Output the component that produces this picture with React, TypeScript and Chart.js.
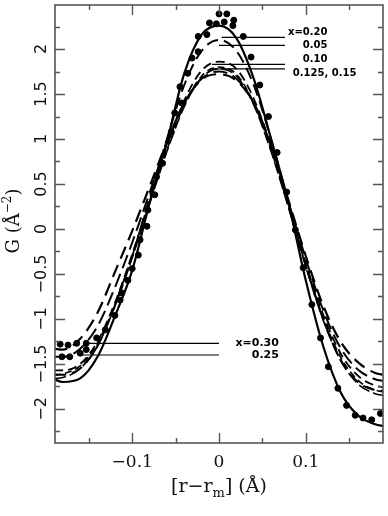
import React, { useEffect, useRef } from 'react';
import { Chart, registerables } from 'chart.js';
Chart.register(...registerables);

// ---- data ----
const xGrid = [-0.19, -0.18, -0.16, -0.14, -0.12, -0.10, -0.08, -0.06, -0.04, -0.02, 0, 0.02, 0.04, 0.06, 0.08, 0.10, 0.12, 0.14, 0.16, 0.18, 0.19];
const curveX20 = [-1.67, -1.70, -1.66, -1.42, -0.97, -0.46, 0.29, 0.97, 1.73, 2.16, 2.26, 2.12, 1.67, 1.0, 0.29, -0.57, -1.30, -1.81, -2.07, -2.17, -2.19];
const curveX05 = [-1.62, -1.62, -1.55, -1.30, -0.85, -0.30, 0.35, 1.0, 1.6, 1.98, 2.10, 1.98, 1.6, 1.0, 0.3, -0.4, -1.0, -1.45, -1.70, -1.79, -1.80];
const curveX10 = [-1.57, -1.57, -1.50, -1.25, -0.82, -0.28, 0.32, 0.92, 1.43, 1.76, 1.86, 1.78, 1.45, 0.92, 0.28, -0.38, -0.95, -1.38, -1.63, -1.74, -1.76];
const curveX125 = [-1.62, -1.61, -1.52, -1.27, -0.84, -0.30, 0.30, 0.88, 1.38, 1.70, 1.80, 1.72, 1.40, 0.88, 0.25, -0.40, -0.98, -1.42, -1.68, -1.79, -1.81];
const curveX15 = [-1.66, -1.65, -1.55, -1.30, -0.86, -0.32, 0.28, 0.86, 1.36, 1.68, 1.78, 1.70, 1.38, 0.86, 0.24, -0.42, -1.01, -1.46, -1.72, -1.83, -1.85];
const curveX25 = [-1.42, -1.42, -1.33, -1.08, -0.65, -0.15, 0.40, 0.95, 1.40, 1.67, 1.75, 1.67, 1.40, 0.92, 0.30, -0.33, -0.90, -1.32, -1.56, -1.67, -1.69];
const curveX30 = [-1.33, -1.34, -1.22, -0.93, -0.48, -0.02, 0.47, 0.97, 1.40, 1.66, 1.72, 1.65, 1.40, 0.93, 0.32, -0.30, -0.85, -1.25, -1.48, -1.60, -1.62];

const dotX = [-0.183, -0.174, -0.164, -0.153, -0.181, -0.172, -0.160, -0.153, -0.141, -0.131, -0.120, -0.114, -0.112, -0.105, -0.100, -0.093, -0.091, -0.083, -0.082, -0.074, -0.072, -0.065, -0.055, -0.051, -0.043, -0.045, -0.036, -0.031, -0.024, -0.024, -0.014, -0.011, -0.003, 0.000, 0.006, 0.009, 0.016, 0.017, 0.028, 0.037, 0.047, 0.057, 0.067, 0.078, 0.088, 0.097, 0.107, 0.117, 0.126, 0.137, 0.147, 0.157, 0.166, 0.176, 0.186];
const dotY = [-1.28, -1.29, -1.27, -1.27, -1.42, -1.42, -1.38, -1.34, -1.21, -1.12, -0.96, -0.79, -0.71, -0.57, -0.44, -0.29, -0.12, 0.03, 0.21, 0.38, 0.58, 0.73, 1.08, 1.29, 1.40, 1.58, 1.73, 1.90, 1.97, 2.14, 2.16, 2.29, 2.28, 2.39, 2.30, 2.39, 2.26, 2.32, 2.14, 1.91, 1.60, 1.25, 0.85, 0.41, -0.01, -0.43, -0.84, -1.21, -1.53, -1.77, -1.96, -2.07, -2.10, -2.12, -2.05];

const pointerY = [2.13, 2.04, 1.83, 1.78, -1.27, -1.40];
const pointerFrom = [0.003, 0.0, -0.008, -0.010, -0.155, -0.160];
const pointerTo = [0.076, 0.076, 0.076, 0.076, 0.0, 0.0];
const topLabels = ['x=0.20', '0.05', '0.10', '0.125, 0.15'];
const topLabelY = [2.18, 2.04, 1.89, 1.73];
const bottomLabels = ['x=0.30', '0.25'];
const bottomLabelY = [-1.27, -1.40];

const xTickValues = [-0.15, -0.1, -0.05, 0, 0.05, 0.1, 0.15];
const xMajor = [-0.1, 0, 0.1];
const xTickLabels = ['\u22120.1', '0', '0.1'];
const yTickValues = [-2.25, -2, -1.75, -1.5, -1.25, -1, -0.75, -0.5, -0.25, 0, 0.25, 0.5, 0.75, 1, 1.25, 1.5, 1.75, 2, 2.25];
const yMajor = [-2, -1.5, -1, -0.5, 0, 0.5, 1, 1.5, 2];
const yTickLabels = ['\u22122', '\u22121.5', '\u22121', '\u22120.5', '0', '0.5', '1', '1.5', '2'];

const X_MIN = -0.189, X_MAX = 0.189, Y_MIN = -2.378, Y_MAX = 2.489;

const pts = (ys: number[]) => xGrid.map((x, i) => ({ x, y: ys[i] }));

const axisPlugin = {
  id: 'axisFrame',
  afterDraw(chart: any) {
    const { ctx, chartArea: a, scales } = chart;
    const xs = scales.x, ys = scales.y;
    ctx.save();
    ctx.strokeStyle = '#555';
    ctx.lineWidth = 1.6;
    ctx.strokeRect(a.left, a.top, a.right - a.left, a.bottom - a.top);
    ctx.lineWidth = 1.4;
    ctx.beginPath();
    for (const v of xTickValues) {
      const px = Math.round(xs.getPixelForValue(v)) + 0.5;
      const len = xMajor.some(t => Math.abs(t - v) < 1e-9) ? 10 : 5;
      ctx.moveTo(px, a.bottom); ctx.lineTo(px, a.bottom - len);
      ctx.moveTo(px, a.top); ctx.lineTo(px, a.top + len);
    }
    for (const v of yTickValues) {
      const py = Math.round(ys.getPixelForValue(v)) + 0.5;
      const len = yMajor.some(t => Math.abs(t - v) < 1e-9) ? 10 : 5;
      ctx.moveTo(a.left, py); ctx.lineTo(a.left + len, py);
      ctx.moveTo(a.right, py); ctx.lineTo(a.right - len, py);
    }
    ctx.stroke();

    ctx.fillStyle = '#111';
    ctx.font = '17px "DejaVu Serif"';
    ctx.textAlign = 'center';
    ctx.textBaseline = 'middle';
    xMajor.forEach((v, i) => ctx.fillText(xTickLabels[i], xs.getPixelForValue(v), a.bottom + 20));
    ctx.font = '16px "DejaVu Sans"';
    yMajor.forEach((v, i) => {
      ctx.save();
      ctx.translate(a.left - 13, ys.getPixelForValue(v));
      ctx.rotate(-Math.PI / 2);
      ctx.fillText(yTickLabels[i], 0, 0);
      ctx.restore();
    });

    const big = '19px "DejaVu Serif"', small = '13px "DejaVu Serif"';
    const parts: [string, string, number][] = [['[r\u2212r', big, 0], ['m', small, 5], ['] (\u00C5)', big, 0]];
    let total = 0;
    parts.forEach(p => { ctx.font = p[1]; total += ctx.measureText(p[0]).width; });
    let cx = (a.left + a.right) / 2 - total / 2;
    ctx.textAlign = 'left';
    ctx.textBaseline = 'alphabetic';
    parts.forEach(p => { ctx.font = p[1]; ctx.fillText(p[0], cx, a.bottom + 49 + p[2]); cx += ctx.measureText(p[0]).width; });

    const yparts: [string, string, number][] = [['G (\u00C5', '18px "DejaVu Serif"', 0], ['\u22122', '12px "DejaVu Serif"', -8], [')', '18px "DejaVu Serif"', 0]];
    let ytot = 0;
    yparts.forEach(p => { ctx.font = p[1]; ytot += ctx.measureText(p[0]).width; });
    ctx.save();
    ctx.translate(19, 221);
    ctx.rotate(-Math.PI / 2);
    let cy = -ytot / 2;
    yparts.forEach(p => { ctx.font = p[1]; ctx.fillText(p[0], cy, 0 + p[2]); cy += ctx.measureText(p[0]).width; });
    ctx.restore();

    ctx.fillStyle = '#000';
    ctx.font = 'bold 10px "DejaVu Sans"';
    ctx.textBaseline = 'middle';
    topLabels.forEach((t, i) => {
      if (i < 3) { ctx.textAlign = 'right'; ctx.fillText(t, xs.getPixelForValue(0.125), ys.getPixelForValue(topLabelY[i])); }
      else { ctx.textAlign = 'left'; ctx.fillText(t, xs.getPixelForValue(0.085), ys.getPixelForValue(topLabelY[i])); }
    });
    ctx.font = 'bold 11px "DejaVu Sans"';
    ctx.textAlign = 'right';
    bottomLabels.forEach((t, i) => ctx.fillText(t, xs.getPixelForValue(0.069), ys.getPixelForValue(bottomLabelY[i])));
    ctx.restore();
  },
};

export default function App() {
  const ref = useRef<HTMLCanvasElement>(null);
  useEffect(() => {
    document.body.style.margin = '0';
    const curve = (data: number[], dash: number[], width: number) => ({
      type: 'line' as const,
      data: pts(data),
      borderColor: '#000',
      borderWidth: width,
      borderDash: dash,
      pointRadius: 0,
      cubicInterpolationMode: 'monotone' as const,
      fill: false,
    });
    const pointerSets = pointerY.map((y, i) => ({
      type: 'line' as const,
      data: [{ x: pointerFrom[i], y }, { x: pointerTo[i], y }],
      borderColor: '#000',
      borderWidth: 1.2,
      pointRadius: 0,
      fill: false,
    }));
    const chart = new Chart(ref.current!, {
      type: 'line',
      data: {
        datasets: [
          curve(curveX20, [], 2.2),
          curve(curveX05, [12, 6], 2),
          curve(curveX10, [9, 5], 1.8),
          curve(curveX125, [7, 4], 1.6),
          curve(curveX15, [12, 4], 1.6),
          curve(curveX25, [14, 6], 2),
          curve(curveX30, [13, 7], 2.2),
          ...pointerSets,
          {
            type: 'scatter' as const,
            data: dotX.map((x, i) => ({ x, y: dotY[i] })),
            backgroundColor: '#000',
            borderColor: '#000',
            pointRadius: 3,
            showLine: false,
          },
        ] as any,
      },
      options: {
        responsive: false,
        animation: false,
        devicePixelRatio: 1,
        layout: { padding: { left: 55, right: 5, top: 5, bottom: 73 } },
        plugins: { legend: { display: false }, tooltip: { enabled: false } },
        scales: {
          x: { type: 'linear', min: X_MIN, max: X_MAX, display: false },
          y: { type: 'linear', min: Y_MIN, max: Y_MAX, display: false },
        },
      },
      plugins: [axisPlugin],
    });
    return () => chart.destroy();
  }, []);
  return <canvas ref={ref} width={388} height={516} style={{ display: 'block' }} />;
}
